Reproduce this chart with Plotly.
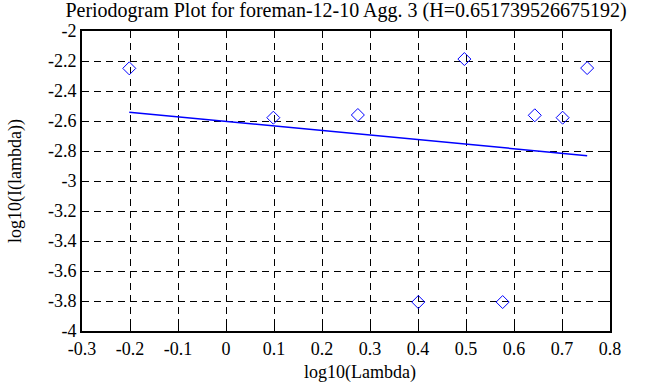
import plotly.graph_objects as go

# Periodogram points: log10(lambda) vs log10(I(lambda))
log_lambda = [-0.2015, 0.0986, 0.2747, 0.4006, 0.4966, 0.5764, 0.6433, 0.7013, 0.7524]
log_I = [-2.249, -2.578, -2.560, -3.807, -2.187, -3.807, -2.562, -2.578, -2.247]

# Fitted regression line endpoints
fit_x = [-0.2015, 0.7524]
fit_y = [-2.542, -2.831]

title_text = "Periodogram Plot for foreman-12-10 Agg. 3 (H=0.651739526675192)"
x_label = "log10(Lambda)"
y_label = "log10(I(lambda))"
x_ticks = [-0.3, -0.2, -0.1, 0, 0.1, 0.2, 0.3, 0.4, 0.5, 0.6, 0.7, 0.8]
x_ticklabels = ["-0.3", "-0.2", "-0.1", "0", "0.1", "0.2", "0.3", "0.4", "0.5", "0.6", "0.7", "0.8"]
y_ticks = [-4, -3.8, -3.6, -3.4, -3.2, -3, -2.8, -2.6, -2.4, -2.2, -2]
y_ticklabels = ["-4", "-3.8", "-3.6", "-3.4", "-3.2", "-3", "-2.8", "-2.6", "-2.4", "-2.2", "-2"]

FONT = "Liberation Serif"
FS = 18

fig = go.Figure()
fig.add_trace(go.Scatter(
    x=log_lambda, y=log_I, mode="markers",
    marker=dict(symbol="diamond-open", size=10, color="#0000ff", line=dict(width=1, color="#0000ff")),
    showlegend=False, hoverinfo="skip"))
fig.add_trace(go.Scatter(
    x=fit_x, y=fit_y, mode="lines",
    line=dict(color="#0000ff", width=1.5),
    showlegend=False, hoverinfo="skip"))

axis_common = dict(
    showline=True, linecolor="black", linewidth=2, mirror="ticks",
    ticks="inside", ticklen=7, tickcolor="black", tickwidth=1,
    showgrid=True, gridcolor="black", gridwidth=1, griddash="7px,5px",
    zeroline=False, automargin=False,
    tickfont=dict(family=FONT, size=FS, color="black"),
)

fig.update_xaxes(range=[-0.3, 0.8], tickvals=x_ticks, ticktext=x_ticklabels, **axis_common)
fig.update_yaxes(range=[-4, -2], tickvals=y_ticks, ticktext=y_ticklabels, **axis_common)

fig.update_layout(
    width=668, height=387,
    margin=dict(l=82, r=58, t=31, b=56),
    paper_bgcolor="white", plot_bgcolor="white",
    title=dict(text=title_text, xref="paper", x=0.5, xanchor="center",
               yref="container", y=0.974, yanchor="middle",
               font=dict(family=FONT, size=20, color="black")),
    annotations=[
        dict(text=x_label, xref="paper", yref="paper", x=0.5265, y=-0.137,
             xanchor="center", yanchor="middle", showarrow=False,
             font=dict(family=FONT, size=FS, color="black")),
        dict(text=y_label, xref="paper", yref="paper", x=-0.127, y=0.5,
             xanchor="center", yanchor="middle", showarrow=False, textangle=-90,
             font=dict(family=FONT, size=FS, color="black")),
    ],
)

fig.write_html("out.html", config={"displayModeBar": False},
               post_script="document.body.style.margin='0';")
